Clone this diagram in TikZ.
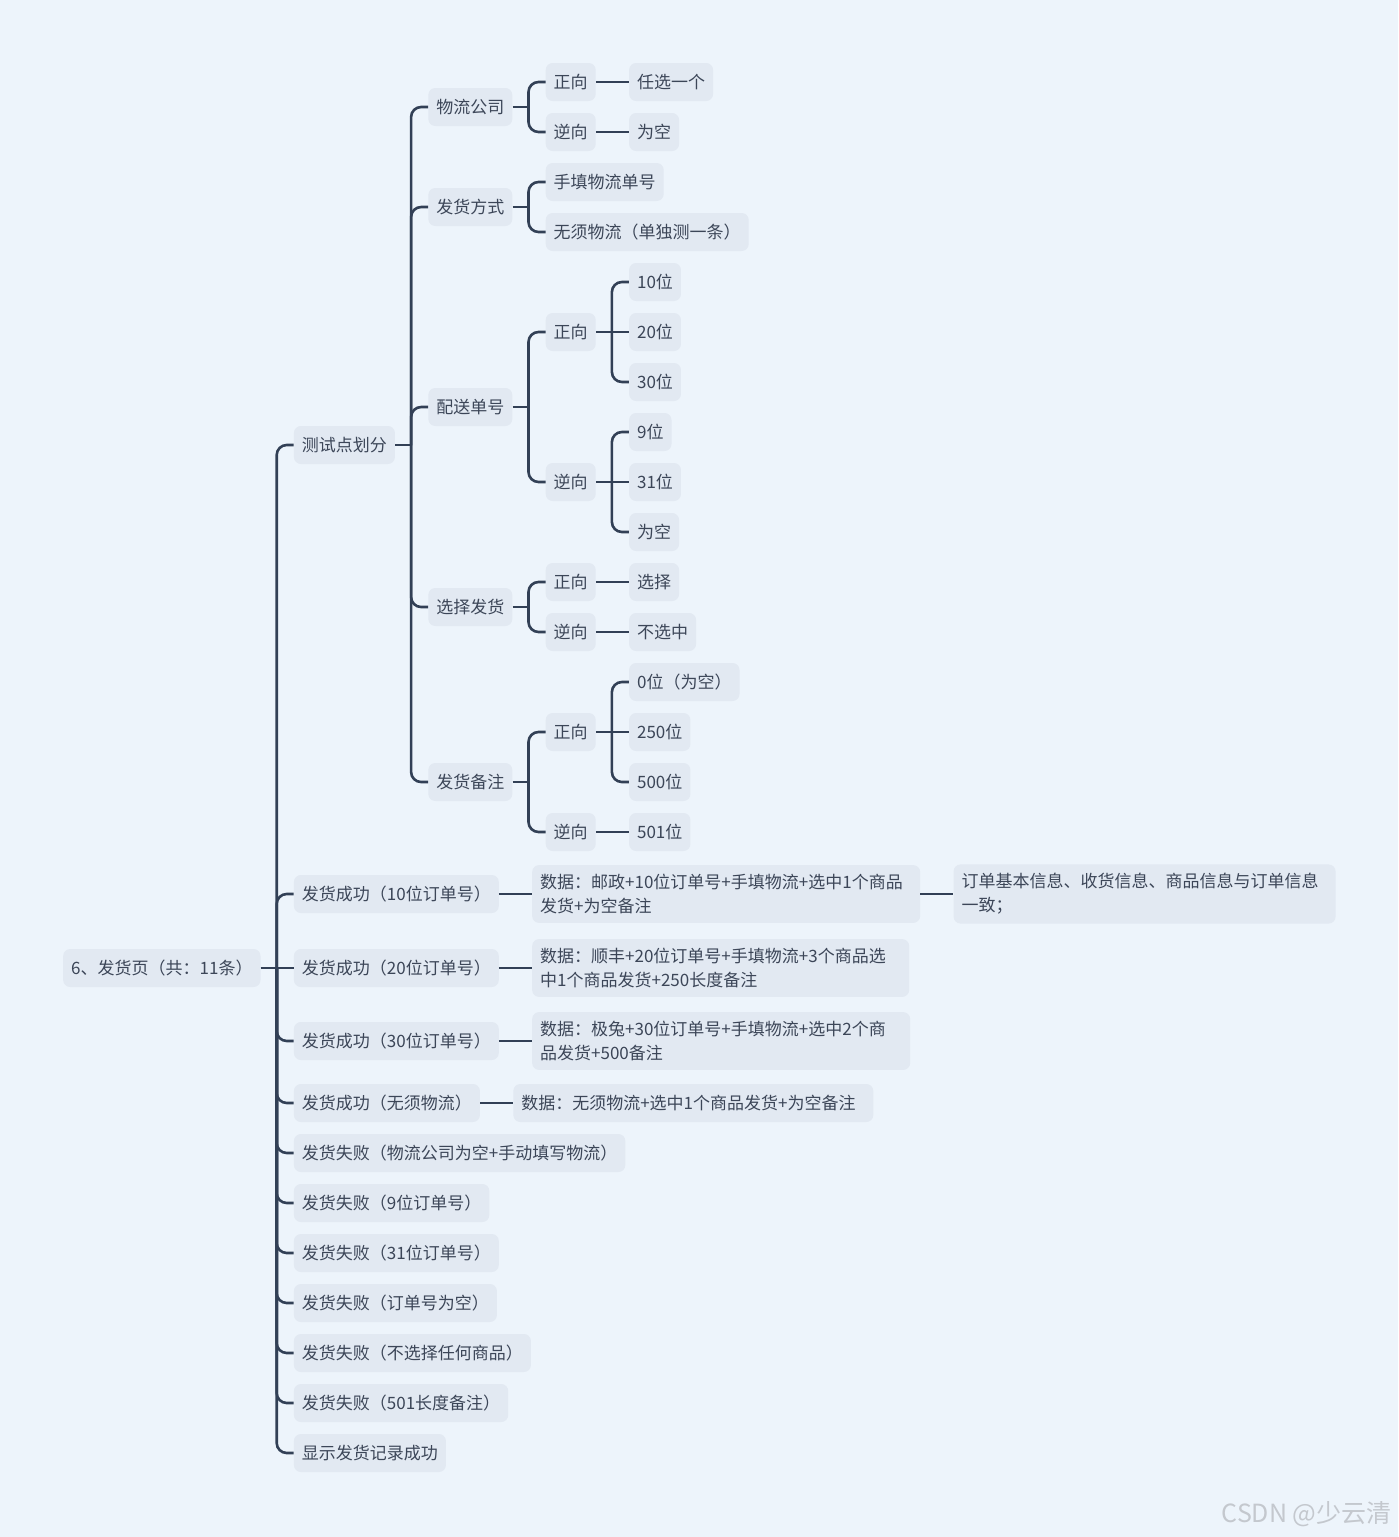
\documentclass[tikz,border=0pt]{standalone}
\usepackage{fontspec}
\setmainfont{Noto Sans CJK SC}
\usetikzlibrary{positioning}
\definecolor{bgblue}{RGB}{237,244,251}
\definecolor{boxfill}{RGB}{226,233,242}
\definecolor{linkcol}{RGB}{50,64,86}
\definecolor{txtcol}{RGB}{60,70,88}
\definecolor{wmgrey}{RGB}{196,200,206}

\begin{document}
\begin{tikzpicture}[
  x=1pt, y=-1pt,
  font=\fontsize{17pt}{24pt}\selectfont,
  node distance=33pt,
  box/.style={fill=boxfill,text=txtcol,rounded corners=7pt,inner xsep=8pt,inner ysep=9pt,minimum height=38pt,anchor=west},
  multi/.style={box,align=left,text width=#1},
  link/.style={draw=linkcol,line width=2.6pt},
  branch/.style={link,rounded corners=10pt}
]
\fill[bgblue] (0,0) rectangle (1398,1537);
\useasboundingbox (0,0) rectangle (1398,1537);

% root and first level
\node[box] (root) at (63,968) {6、发货页（共：11条）};
\coordinate (j0) at ([xshift=16pt]root.east);
\coordinate (k0) at ([xshift=33pt]root.east);
\node[box] (tp) at (k0 |- 0,445) {测试点划分};
\node[box] (s10) at (k0 |- 0,894) {发货成功（10位订单号）};
\node[box] (s20) at (k0 |- 0,968) {发货成功（20位订单号）};
\node[box] (s30) at (k0 |- 0,1041) {发货成功（30位订单号）};
\node[box] (sno) at (k0 |- 0,1103) {发货成功（无须物流）};
\node[box] (f1) at (k0 |- 0,1153) {发货失败（物流公司为空+手动填写物流）};
\node[box] (f9) at (k0 |- 0,1203) {发货失败（9位订单号）};
\node[box] (f31) at (k0 |- 0,1253) {发货失败（31位订单号）};
\node[box] (fe) at (k0 |- 0,1303) {发货失败（订单号为空）};
\node[box] (fn) at (k0 |- 0,1353) {发货失败（不选择任何商品）};
\node[box] (f501) at (k0 |- 0,1403) {发货失败（501长度备注）};
\node[box] (rec) at (k0 |- 0,1453) {显示发货记录成功};

% data of the success cases
\node[multi=372pt,right=of s10] (d10) {数据：邮政+10位订单号+手填物流+选中1个商品\\发货+为空备注};
\node[multi=366pt,right=of d10] (r10) {订单基本信息、收货信息、商品信息与订单信息\\一致；};
\node[multi=361pt,right=of s20] (d20) {数据：顺丰+20位订单号+手填物流+3个商品选\\中1个商品发货+250长度备注};
\node[multi=362pt,right=of s30] (d30) {数据：极兔+30位订单号+手填物流+选中2个商\\品发货+500备注};
\node[multi=344pt,right=of sno] (dno) {数据：无须物流+选中1个商品发货+为空备注};

% second level
\coordinate (j1) at ([xshift=16pt]tp.east);
\coordinate (k1) at ([xshift=33pt]tp.east);
\node[box] (wl) at (k1 |- 0,107) {物流公司};
\node[box] (fs) at (k1 |- 0,207) {发货方式};
\node[box] (ps) at (k1 |- 0,407) {配送单号};
\node[box] (xz) at (k1 |- 0,607) {选择发货};
\node[box] (bz) at (k1 |- 0,782) {发货备注};

% third level
\coordinate (jw) at ([xshift=16pt]wl.east);
\coordinate (kw) at ([xshift=33pt]wl.east);
\node[box] (wz) at (kw |- 0,82) {正向};
\node[box] (wn) at (kw |- 0,132) {逆向};
\node[box,right=of wz] (wza) {任选一个};
\node[box,right=of wn] (wna) {为空};

\coordinate (jf) at ([xshift=16pt]fs.east);
\coordinate (kf) at ([xshift=33pt]fs.east);
\node[box] (fsa) at (kf |- 0,182) {手填物流单号};
\node[box] (fsb) at (kf |- 0,232) {无须物流（单独测一条）};

\coordinate (jp) at ([xshift=16pt]ps.east);
\coordinate (kp) at ([xshift=33pt]ps.east);
\node[box] (pz) at (kp |- 0,332) {正向};
\node[box] (pn) at (kp |- 0,482) {逆向};
\coordinate (jpz) at ([xshift=16pt]pz.east);
\coordinate (kpz) at ([xshift=33pt]pz.east);
\node[box] (pz1) at (kpz |- 0,282) {10位};
\node[box] (pz2) at (kpz |- 0,332) {20位};
\node[box] (pz3) at (kpz |- 0,382) {30位};
\coordinate (jpn) at ([xshift=16pt]pn.east);
\coordinate (kpn) at ([xshift=33pt]pn.east);
\node[box] (pn1) at (kpn |- 0,432) {9位};
\node[box] (pn2) at (kpn |- 0,482) {31位};
\node[box] (pn3) at (kpn |- 0,532) {为空};

\coordinate (jx) at ([xshift=16pt]xz.east);
\coordinate (kx) at ([xshift=33pt]xz.east);
\node[box] (xzz) at (kx |- 0,582) {正向};
\node[box] (xzn) at (kx |- 0,632) {逆向};
\node[box,right=of xzz] (xzza) {选择};
\node[box,right=of xzn] (xzna) {不选中};

\coordinate (jb) at ([xshift=16pt]bz.east);
\coordinate (kb) at ([xshift=33pt]bz.east);
\node[box] (bzz) at (kb |- 0,732) {正向};
\node[box] (bzn) at (kb |- 0,832) {逆向};
\coordinate (jbz) at ([xshift=16pt]bzz.east);
\coordinate (kbz) at ([xshift=33pt]bzz.east);
\node[box] (bz1) at (kbz |- 0,682) {0位（为空）};
\node[box] (bz2) at (kbz |- 0,732) {250位};
\node[box] (bz3) at (kbz |- 0,782) {500位};
\node[box,right=of bzn] (bzn1) {501位};

% connectors
\draw[link] (root) -- (s20);
\draw[branch] (j0) |- (tp.west);
\draw[branch] (j0) |- (s10.west);
\draw[branch] (j0) |- (s30.west);
\draw[branch] (j0) |- (sno.west);
\draw[branch] (j0) |- (f1.west);
\draw[branch] (j0) |- (f9.west);
\draw[branch] (j0) |- (f31.west);
\draw[branch] (j0) |- (fe.west);
\draw[branch] (j0) |- (fn.west);
\draw[branch] (j0) |- (f501.west);
\draw[branch] (j0) |- (rec.west);

\draw[link] (s10) -- (d10);
\draw[link] (d10) -- (r10);
\draw[link] (s20) -- (d20);
\draw[link] (s30) -- (d30);
\draw[link] (sno) -- (dno);

\draw[link] (tp) -- (j1);
\draw[branch] (j1) |- (wl.west);
\draw[branch] (j1) |- (fs.west);
\draw[branch] (j1) |- (ps.west);
\draw[branch] (j1) |- (xz.west);
\draw[branch] (j1) |- (bz.west);

\draw[link] (wl) -- (jw);
\draw[branch] (jw) |- (wz.west);
\draw[branch] (jw) |- (wn.west);
\draw[link] (wz) -- (wza);
\draw[link] (wn) -- (wna);

\draw[link] (fs) -- (jf);
\draw[branch] (jf) |- (fsa.west);
\draw[branch] (jf) |- (fsb.west);

\draw[link] (ps) -- (jp);
\draw[branch] (jp) |- (pz.west);
\draw[branch] (jp) |- (pn.west);
\draw[link] (pz) -- (pz2);
\draw[branch] (jpz) |- (pz1.west);
\draw[branch] (jpz) |- (pz3.west);
\draw[link] (pn) -- (pn2);
\draw[branch] (jpn) |- (pn1.west);
\draw[branch] (jpn) |- (pn3.west);

\draw[link] (xz) -- (jx);
\draw[branch] (jx) |- (xzz.west);
\draw[branch] (jx) |- (xzn.west);
\draw[link] (xzz) -- (xzza);
\draw[link] (xzn) -- (xzna);

\draw[link] (bz) -- (jb);
\draw[branch] (jb) |- (bzz.west);
\draw[branch] (jb) |- (bzn.west);
\draw[link] (bzz) -- (bz2);
\draw[branch] (jbz) |- (bz1.west);
\draw[branch] (jbz) |- (bz3.west);
\draw[link] (bzn) -- (bzn1);

% watermark
\node[anchor=east,text=wmgrey,font=\fontsize{25pt}{25pt}\selectfont] (wm) at (1395,1514) {CSDN @少云清};
\end{tikzpicture}
\end{document}
